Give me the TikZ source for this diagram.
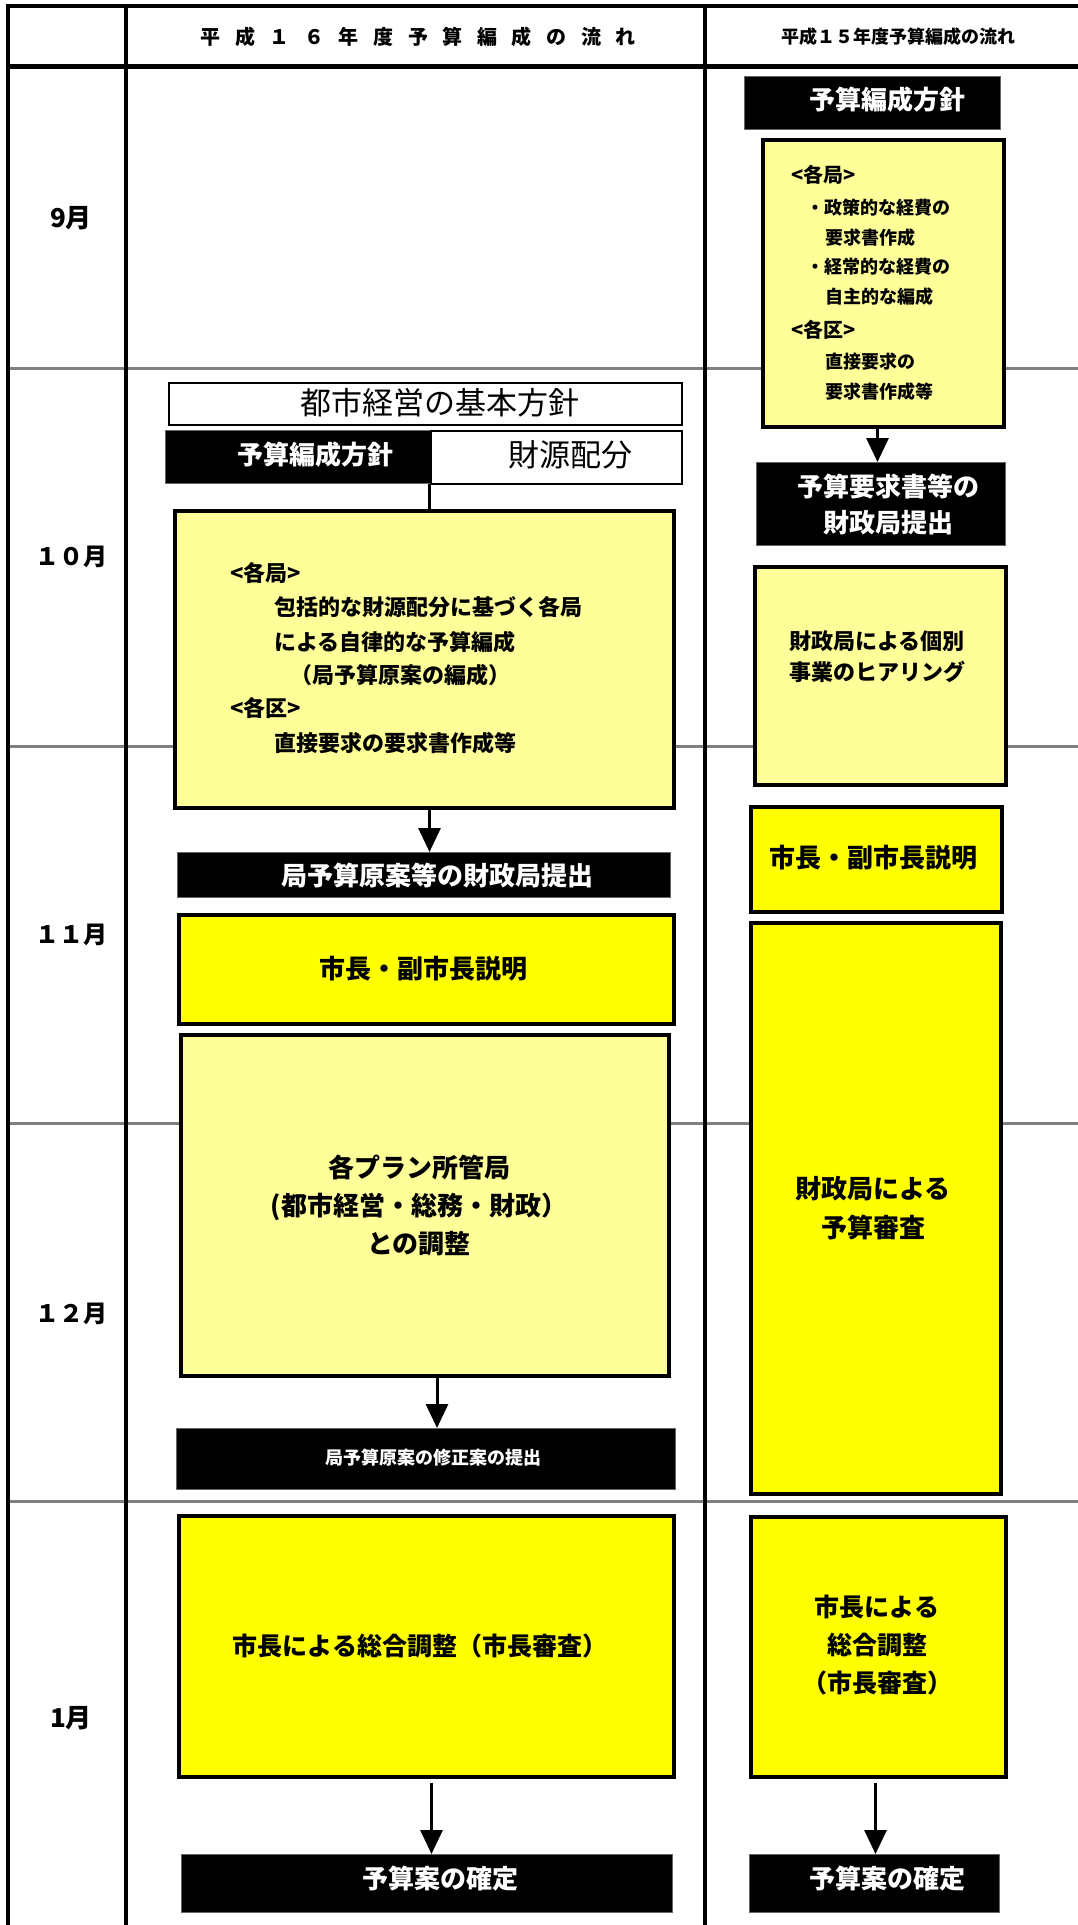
\documentclass[tikz,border=0pt]{standalone}
\usepackage{fontspec}
\setmainfont{Noto Sans CJK JP}
\usetikzlibrary{arrows.meta}
\definecolor{lyel}{HTML}{FFFF99}
\definecolor{yel}{HTML}{FFFF00}
\definecolor{gridgray}{HTML}{808080}
\newcommand{\fsz}[2]{\fontsize{#1}{#2}\selectfont}
\newcommand{\hsp}{\hspace{14.6pt}}
\newcommand{\bx}[6]{\node[#2, minimum width={#5-#3}, minimum height={#6-#4}] (#1) at (#3,#4) {};}
\tikzset{
 lybox/.style={draw=black, line width=4pt, fill=lyel, anchor=north west, inner sep=0pt},
 ybox/.style={draw=black, line width=4pt, fill=yel, anchor=north west, inner sep=0pt},
 bbox/.style={draw=black!60, line width=1pt, fill=black, anchor=north west, inner sep=0pt},
 wbox/.style={draw=black, line width=1.5pt, fill=white, anchor=north west, inner sep=0pt},
 txt/.style={inner sep=0pt, align=center},
 wtxt/.style={inner sep=0pt, text=white, align=center},
 ltxt/.style={inner sep=0pt, anchor=west},
 arr/.style={line width=3pt, -{Triangle[width=22pt,length=24pt]}},
 gridline/.style={gridgray, line width=3pt},
 frame/.style={black, line width=4pt},
}
\begin{document}
\begin{tikzpicture}[x=1pt,y=-1pt]
\useasboundingbox (0,0) rectangle (1078,1925);
% grid
\draw[gridline] (8,368) -- (1078,368);
\draw[gridline] (8,746) -- (1078,746);
\draw[gridline] (8,1123) -- (1078,1123);
\draw[gridline] (8,1501) -- (1078,1501);
\draw[frame] (8,6) -- (1078,6);
\draw[frame, line width=5pt] (8,66) -- (1078,66);
\draw[frame] (8,4) -- (8,1925);
\draw[frame] (126,6) -- (126,1925);
\draw[frame] (705,6) -- (705,1925);
% headers
\node[txt, font=\bfseries\fsz{20}{20}] (h1) at (418,37) {平\hsp 成\hsp １\hsp ６\hsp 年\hsp 度\hsp 予\hsp 算\hsp 編\hsp 成\hsp の\hsp 流\hsp れ};
\node[txt, font=\bfseries\fsz{18}{18}] (h2) at (898,37) {平成１５年度予算編成の流れ};
% months
\node[txt, font=\bfseries\fsz{26}{26}] (m9) at (71,218) {9月};
\node[txt, font=\bfseries\fsz{24}{24}] (m10) at (71,557) {１０月};
\node[txt, font=\bfseries\fsz{24}{24}] (m11) at (71,935) {１１月};
\node[txt, font=\bfseries\fsz{24}{24}] (m12) at (71,1314) {１２月};
\node[txt, font=\bfseries\fsz{26}{26}] (m1) at (71,1718) {1月};
% ---------- left column ----------
\bx{kihon}{wbox}{168}{382}{681}{424}
\node[txt, font=\fsz{31}{31}] (kihont) at (440,403) {都市経営の基本方針};
\bx{lhoshin}{bbox}{165}{430}{430}{483}
\node[wtxt, font=\bfseries\fsz{26}{26}] (lhoshint) at (315,455) {予算編成方針};
\bx{zaigen}{wbox}{430}{430}{681}{483}
\node[txt, font=\fsz{31}{31}] (zaigent) at (570,455) {財源配分};
\bx{big}{lybox}{173}{509}{672}{806}
\draw[line width=3pt] ([xshift=-2pt]lhoshin.south east) -- ([xshift=-2pt]lhoshin.south east |- big.north);
\node[ltxt, font=\bfseries\fsz{22}{22}] (b1) at (230,573) {<各局>};
\node[ltxt, font=\bfseries\fsz{22}{22}] (b2) at (274,607) {包括的な財源配分に基づく各局};
\node[ltxt, font=\bfseries\fsz{22}{22}] (b3) at (274,642) {による自律的な予算編成};
\node[ltxt, font=\bfseries\fsz{22}{22}] (b4) at (290,675) {（局予算原案の編成）};
\node[ltxt, font=\bfseries\fsz{22}{22}] (b5) at (230,708) {<各区>};
\node[ltxt, font=\bfseries\fsz{22}{22}] (b6) at (274,743) {直接要求の要求書作成等};
\bx{teishutsu}{bbox}{177}{852}{670}{897}
\node[wtxt, font=\bfseries\fsz{26}{26}] (teishutsut) at (437,876) {局予算原案等の財政局提出};
\draw[arr] ([xshift=5pt]big.south) -- ([xshift=5pt]big.south |- teishutsu.north);
\bx{lsetsumei}{ybox}{177}{913}{672}{1022}
\node[txt, font=\bfseries\fsz{26}{26}] (lsetsumeit) at (423,969) {市長・副市長説明};
\bx{kaku}{lybox}{179}{1033}{667}{1374}
\node[txt, font=\bfseries\fsz{26}{38}] (kakut) at (419,1205) {各プラン所管局\\(都市経営・総務・財政）\\との調整};
\bx{shusei}{bbox}{176}{1428}{675}{1489}
\node[wtxt, font=\bfseries\fsz{18}{18}] (shuseit) at (433,1458) {局予算原案の修正案の提出};
\draw[arr] ([xshift=12pt]kaku.south) -- ([xshift=12pt]kaku.south |- shusei.north);
\bx{lsogo}{ybox}{177}{1514}{672}{1775}
\node[txt, font=\bfseries\fsz{25}{25}] (lsogot) at (420,1646) {市長による総合調整（市長審査）};
\bx{lkakutei}{bbox}{181}{1854}{672}{1912}
\node[wtxt, font=\bfseries\fsz{26}{26}] (lkakuteit) at (440,1879) {予算案の確定};
\draw[arr] ([xshift=5pt,yshift=-4pt]lsogo.south) -- ([xshift=5pt]lsogo.south |- lkakutei.north);
% ---------- right column ----------
\bx{rhoshin}{bbox}{744}{76}{1000}{129}
\node[wtxt, font=\bfseries\fsz{26}{26}] (rhoshint) at (887,100) {予算編成方針};
\bx{rbox}{lybox}{761}{138}{1002}{425}
\node[ltxt, font=\bfseries\fsz{20}{20}] (r1) at (791,175) {<各局>};
\node[ltxt, font=\bfseries\fsz{18}{18}] (r2) at (806,208) {・政策的な経費の};
\node[ltxt, font=\bfseries\fsz{18}{18}] (r3) at (825,238) {要求書作成};
\node[ltxt, font=\bfseries\fsz{18}{18}] (r4) at (806,267) {・経常的な経費の};
\node[ltxt, font=\bfseries\fsz{18}{18}] (r5) at (825,297) {自主的な編成};
\node[ltxt, font=\bfseries\fsz{20}{20}] (r6) at (791,330) {<各区>};
\node[ltxt, font=\bfseries\fsz{18}{18}] (r7) at (825,362) {直接要求の};
\node[ltxt, font=\bfseries\fsz{18}{18}] (r8) at (825,392) {要求書作成等};
\bx{ryokyu}{bbox}{756}{462}{1005}{545}
\node[wtxt, font=\bfseries\fsz{26}{36}] (ryokyut) at (888,505) {予算要求書等の\\財政局提出};
\draw[arr] ([xshift=-6pt]rbox.south) -- ([xshift=-6pt]rbox.south |- ryokyu.north);
\bx{hearing}{lybox}{753}{565}{1004}{783}
\node[txt, font=\bfseries\fsz{22}{31}] (hearingt) at (877,657) {財政局による個別\\事業のヒアリング};
\bx{rsetsumei}{ybox}{749}{805}{1000}{910}
\node[txt, font=\bfseries\fsz{26}{26}] (rsetsumeit) at (873,858) {市長・副市長説明};
\bx{shinsa}{ybox}{749}{921}{999}{1492}
\node[txt, font=\bfseries\fsz{26}{39}] (shinsat) at (873,1208) {財政局による\\予算審査};
\bx{rsogo}{ybox}{749}{1515}{1004}{1775}
\node[txt, font=\bfseries\fsz{25}{38}] (rsogot) at (877,1645) {市長による\\総合調整\\（市長審査）};
\bx{rkakutei}{bbox}{749}{1854}{999}{1912}
\node[wtxt, font=\bfseries\fsz{26}{26}] (rkakuteit) at (887,1879) {予算案の確定};
\draw[arr] ([xshift=-3pt,yshift=-4pt]rsogo.south) -- ([xshift=-3pt]rsogo.south |- rkakutei.north);
\end{tikzpicture}
\end{document}
